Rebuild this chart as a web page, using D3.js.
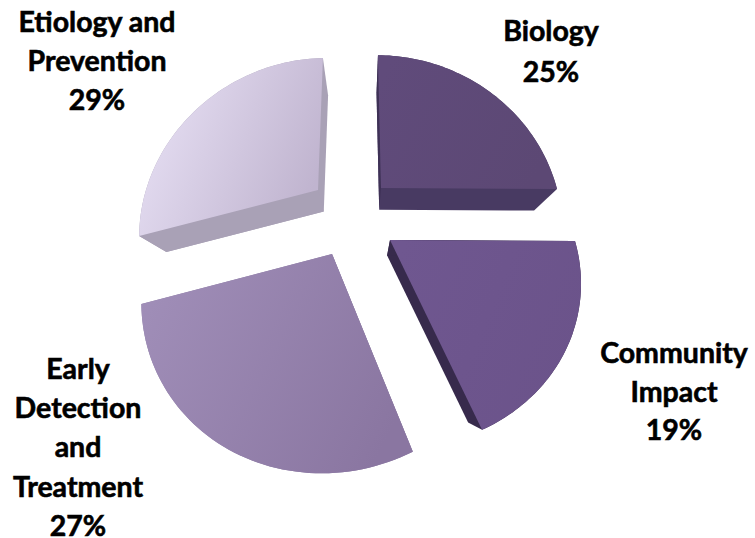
<!DOCTYPE html>
<html>
<head>
<meta charset="utf-8">
<script src="https://cdn.jsdelivr.net/npm/d3@7"></script>
<style>
    html, body { margin: 0; padding: 0; background: #fff; }
    svg { display: block; }
    text { font-family: Lato, "Open Sans", sans-serif; font-weight: 700; font-size: 28.5px; fill: #000; stroke: #000; stroke-width: 0.6px; text-anchor: middle; }
</style>
</head>
<body>
<div id="chart-container"></div>
<script>
const categories = ['Biology', 'Community Impact', 'Early Detection and Treatment', 'Etiology and Prevention'];
const shares = [25, 19, 27, 29];

// how each category name breaks over lines
const labelLines = [
    ['Biology'],
    ['Community', 'Impact'],
    ['Early', 'Detection', 'and', 'Treatment'],
    ['Etiology and', 'Prevention']
];

// top face colours (gradient start, end) and side colour
const faceFrom = ['#604b7b', '#6f5790', '#a08eb8', '#e8e1f5'];
const faceTo = ['#5c4874', '#6b538a', '#8a76a1', '#c0b4cf'];
const sideColors = ['#483a62', '#372a4c', '#8f7fa5', '#a9a1b6'];
const startWallColors = ['#3e3156', '#372a4c', '#8f7fa5', '#a9a1b6'];

// where each exploded slice sits: tip, radii and shear of its perspective-drawn face
const tipX = [381, 390, 332, 318];
const tipY = [188, 240, 254, 190];
const radiusX = [176, 185, 185, 173];
const radiusY = [162, 162, 171, 161];
const shearX = [-3.7, -5.5, 4.1, 6];
const shearY = [1, 1, -4.8, -3.5];

// label placement
const labelX = [551, 674, 78, 97];
const labelTop = [41, 363, 379, 32];
const lineGaps = [40.5, 38.5, 39.2, 39];

const width = 755;
const height = 538;
const tilt = 0.22;
const vanishX = 366;
const vanishY = 369;
const depth = 0.12;

const svg = d3.select('#chart-container').append('svg')
    .attr('width', width)
    .attr('height', height);

const defs = svg.append('defs');
const pie = d3.pie().value(d => d).sort(null);
const line = d3.line();

function project(i, angle) {
    const x = Math.sin(angle);
    const y = Math.cos(angle);
    const w = 1 + tilt * y;
    return [
        tipX[i] + (radiusX[i] * x + shearX[i] * y) / w,
        tipY[i] + (-radiusY[i] * y + shearY[i] * x) / w
    ];
}

function sink(p) {
    return [p[0] + (vanishX - p[0]) * depth, p[1] + (vanishY - p[1]) * depth];
}

pie(shares).forEach((slice, i) => {
    const steps = d3.range(0, 61).map(k => slice.startAngle + (slice.endAngle - slice.startAngle) * k / 60);
    const rim = steps.map(a => project(i, a));
    const tip = [tipX[i], tipY[i]];
    const face = [tip, ...rim];
    const lower = face.map(sink);

    const grad = defs.append('linearGradient')
        .attr('id', `face-${i}`)
        .attr('x1', '0%').attr('y1', '20%')
        .attr('x2', '100%').attr('y2', '60%');
    grad.append('stop').attr('offset', '0%').attr('stop-color', faceFrom[i]);
    grad.append('stop').attr('offset', '100%').attr('stop-color', faceTo[i]);

    const g = svg.append('g').attr('class', 'slice').datum(categories[i]);

    g.append('path')
        .attr('d', line(d3.polygonHull([...face, ...lower])) + 'Z')
        .attr('fill', sideColors[i]);

    // radial wall on the start edge reads darker than the rest of the side
    g.append('path')
        .attr('d', line([tip, rim[0], sink(rim[0]), sink(tip)]) + 'Z')
        .attr('fill', startWallColors[i]);

    g.append('path')
        .attr('d', line(face) + 'Z')
        .attr('fill', `url(#face-${i})`);
});

categories.forEach((name, i) => {
    const rows = [...labelLines[i], `${shares[i]}%`];
    const label = svg.append('text').attr('class', 'label');
    rows.forEach((row, r) => {
        label.append('tspan')
            .attr('x', labelX[i])
            .attr('y', labelTop[i] + r * lineGaps[i])
            .text(row);
    });
});
</script>
</body>
</html>
